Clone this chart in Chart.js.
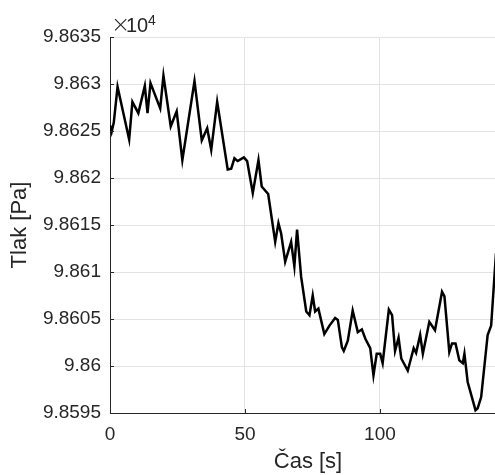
<!DOCTYPE html>
<html>
<head>
<meta charset="utf-8">
<script src="https://cdn.jsdelivr.net/npm/chart.js@4.4.1/dist/chart.umd.min.js"></script>
<style>
  html, body { margin: 0; padding: 0; background: #fff; }
  #frame { width: 495px; height: 475px; overflow: hidden; }
  #wrap { width: 506px; height: 475px; }
</style>
</head>
<body>
<div id="frame"><div id="wrap"><canvas id="myChart" width="506" height="475"></canvas></div></div>
<script>
'use strict';

// measured pressure over time
let cas = [0, 0.6, 1.4, 2.8, 7.1, 8.3, 10.5, 12.9, 13.9, 15.0, 18.6, 19.8, 22.5, 24.7, 26.8,
    31.3, 34.0, 36.0, 37.5, 39.7, 43.6, 44.9, 46.1, 47.3, 49.6, 50.8, 52.9, 55.0, 56.2, 58.6,
    61.2, 62.4, 63.4, 64.9, 67.1, 68.3, 69.3, 70.8, 72.7, 73.9, 75.1, 76.0, 77.2, 79.4, 81.3,
    83.4, 84.4, 85.9, 86.6, 88.1, 89.9, 91.8, 93.3, 94.6, 96.4, 97.6, 98.8, 100.1, 101.0, 103.3,
    104.5, 105.6, 106.9, 107.9, 110.3, 112.5, 113.4, 114.9, 115.9, 118.3, 120.4, 123.0, 123.9, 125.7, 126.7,
    128.0, 129.4, 130.7, 131.3, 132.5, 135.4, 136.2, 137.5, 139.9, 141.2, 143.0];
let tlak = [98625.6, 98624.9, 98625.9, 98629.7, 98624.1, 98628.1, 98626.9, 98629.8, 98626.9, 98630.1, 98627.4, 98630.9, 98625.5, 98627.1, 98621.9,
    98630.3, 98624.0, 98625.3, 98623.0, 98628.1, 98620.9, 98621.0, 98622.1, 98621.8, 98622.2, 98621.8, 98618.4, 98621.9, 98619.1, 98618.3,
    98613.2, 98615.2, 98614.1, 98611.1, 98613.2, 98610.6, 98614.5, 98609.5, 98605.8, 98605.4, 98607.5, 98605.8, 98606.1, 98603.4, 98604.3,
    98605.1, 98604.9, 98602.0, 98601.6, 98602.7, 98605.9, 98603.6, 98603.9, 98602.9, 98601.9, 98599.0, 98601.3, 98601.3, 98600.3, 98606.0,
    98605.4, 98601.6, 98603.0, 98600.8, 98599.5, 98601.9, 98601.4, 98603.3, 98601.3, 98604.7, 98603.8, 98607.9, 98607.4, 98601.5, 98602.4,
    98602.4, 98600.6, 98600.3, 98601.3, 98598.3, 98595.3, 98595.5, 98596.7, 98603.3, 98604.3, 98612.0];

let xTicks = [0, 50, 100];
let yTicks = [98595, 98600, 98605, 98610, 98615, 98620, 98625, 98630, 98635];
let yTickLabels = ['9.8595', '9.86', '9.8605', '9.861', '9.8615', '9.862', '9.8625', '9.863', '9.8635'];

let points = [];
for (let i = 0; i < cas.length; i++) {
    points.push({ x: cas[i], y: tlak[i] });
}

const axisColor = '#262626';
const gridColor = '#e3e3e3';
const fontName = '"Liberation Sans", Arial, sans-serif';

// small tick marks pointing into the axes, plus the x10^4 exponent label
const innerTicks = {
    id: 'innerTicks',
    afterDatasetsDraw(chart) {
        let ctx = chart.ctx;
        let xs = chart.scales.x;
        let ys = chart.scales.y;
        let area = chart.chartArea;
        ctx.save();
        ctx.strokeStyle = axisColor;
        ctx.lineWidth = 1;
        ctx.beginPath();
        for (let v of xTicks) {
            let px = Math.round(xs.getPixelForValue(v)) + 0.5;
            ctx.moveTo(px, area.bottom);
            ctx.lineTo(px, area.bottom - 4);
        }
        for (let v of yTicks) {
            let py = Math.round(ys.getPixelForValue(v)) + 0.5;
            ctx.moveTo(area.left, py);
            ctx.lineTo(area.left + 4, py);
        }
        ctx.stroke();

        ctx.fillStyle = axisColor;
        ctx.textBaseline = 'alphabetic';
        ctx.textAlign = 'left';
        ctx.font = '300 23px "DejaVu Sans", sans-serif';
        ctx.fillText('\u00d7', area.left + 1, 32);
        ctx.font = '20px ' + fontName;
        ctx.fillText('10', area.left + 16, 32);
        ctx.font = '14px ' + fontName;
        ctx.fillText('4', area.left + 38, 25);
        ctx.restore();
    }
};

var ctx = document.getElementById('myChart').getContext('2d');
var myChart = new Chart(ctx, {
    type: 'line',
    data: {
        datasets: [{
            data: points,
            borderColor: '#000000',
            borderWidth: 2.5,
            pointRadius: 0,
            tension: 0,
            fill: false
        }]
    },
    options: {
        responsive: false,
        animation: false,
        layout: { padding: { top: 37, right: 0, left: 0, bottom: 0 } },
        plugins: {
            legend: { display: false },
            tooltip: { enabled: false }
        },
        scales: {
            x: {
                type: 'linear',
                min: 0,
                max: 146.7,
                afterFit: s => { s.height = 62; },
                afterBuildTicks: s => { s.ticks = xTicks.map(v => ({ value: v })); },
                border: { color: axisColor, width: 1 },
                grid: { color: gridColor, drawTicks: false },
                ticks: {
                    color: axisColor,
                    padding: 10,
                    maxRotation: 0,
                    font: { family: fontName, size: 19 }
                },
                title: {
                    display: true,
                    text: 'Čas [s]',
                    color: axisColor,
                    padding: 0,
                    font: { family: fontName, size: 22 }
                }
            },
            y: {
                type: 'linear',
                min: 98595,
                max: 98635,
                afterFit: s => { s.width = 110; },
                afterBuildTicks: s => { s.ticks = yTicks.map(v => ({ value: v })); },
                border: { color: axisColor, width: 1 },
                grid: { color: gridColor, drawTicks: false },
                ticks: {
                    color: axisColor,
                    padding: 9,
                    font: { family: fontName, size: 19 },
                    callback: (value, index) => yTickLabels[index]
                },
                title: {
                    display: true,
                    text: 'Tlak [Pa]',
                    color: axisColor,
                    padding: { top: 7, bottom: 0 },
                    font: { family: fontName, size: 22 }
                }
            }
        }
    },
    plugins: [innerTicks]
});
</script>
</body>
</html>
